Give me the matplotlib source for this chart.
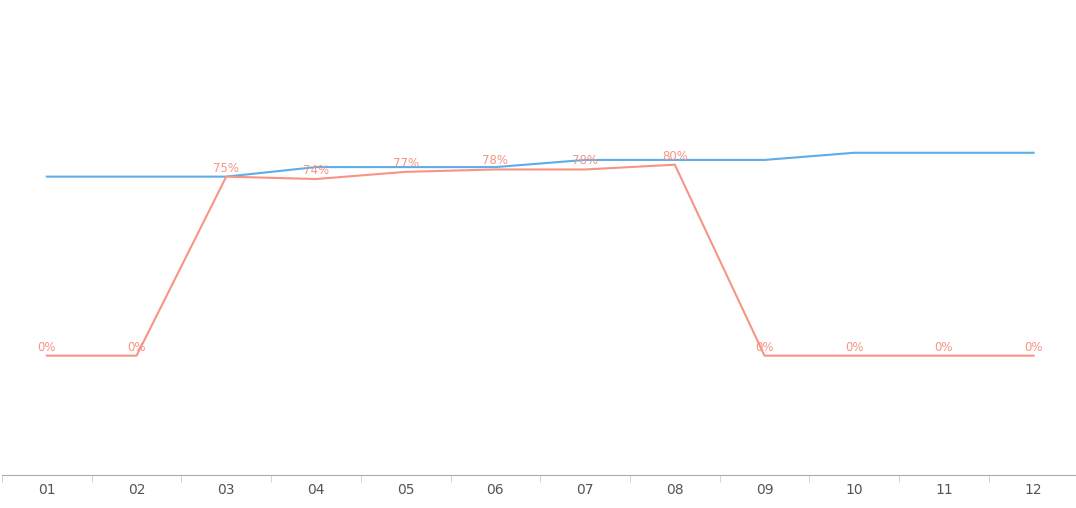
import numpy as np
import matplotlib.pyplot as plt

# Datos del gráfico
meses = ["01", "02", "03", "04", "05", "06", "07", "08", "09", "10", "11", "12"]
serie_azul = [75, 75, 75, 79, 79, 79, 82, 82, 82, 85, 85, 85]
serie_roja = [0, 0, 75, 74, 77, 78, 78, 80, 0, 0, 0, 0]

color_azul = "#5dade9"
color_rojo = "#f79486"

fig = plt.figure(figsize=(10.76, 5.08), dpi=100)
ax = fig.add_axes([2 / 1076, 33 / 508, 1076.5 / 1076, 475 / 508])

x = np.arange(len(meses))
ax.plot(x, serie_azul, color=color_azul, lw=1.5)
ax.plot(x, serie_roja, color=color_rojo, lw=1.5)

# Etiquetas de la serie roja
for xi, v in zip(x, serie_roja):
    ax.annotate(f"{v}%", (xi, v), xytext=(0, 1.5), textcoords="offset points",
                ha="center", va="bottom", fontsize=8.5, color=color_rojo)

ax.set_xlim(-0.5, len(meses) - 0.5)
ax.set_ylim(-50, 149)

# Eje x con marcas entre categorías
ax.set_xticks(x)
ax.set_xticklabels(meses, fontsize=10, color="#555555")
ax.set_xticks(np.arange(-0.5, len(meses)), minor=True)
ax.tick_params(axis="x", which="major", length=0, pad=6)
ax.tick_params(axis="x", which="minor", length=5, color="#cccccc")
ax.set_yticks([])

for s in ["top", "right", "left"]:
    ax.spines[s].set_visible(False)
ax.spines["bottom"].set_color("#aaaaaa")

fig.savefig("out.png", dpi=100)
